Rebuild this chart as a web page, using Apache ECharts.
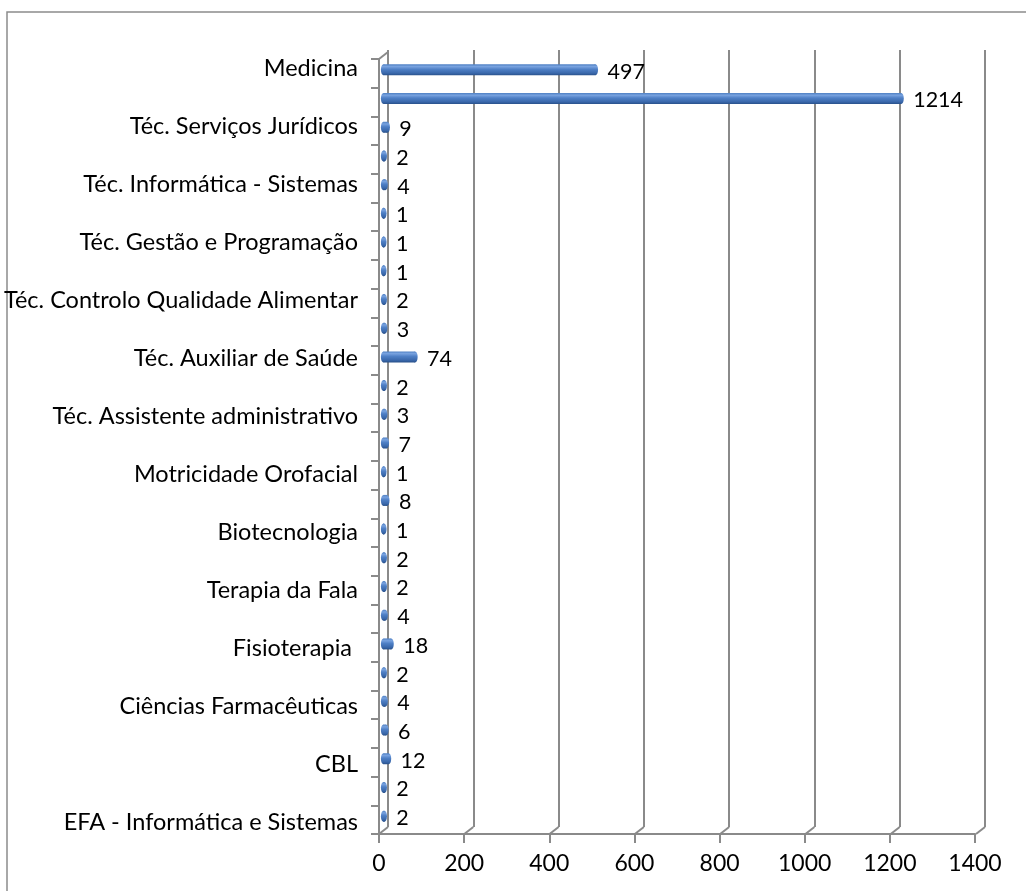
<!DOCTYPE html>
<html>
<head>
<meta charset="utf-8">
<script src="https://cdn.jsdelivr.net/npm/echarts@6/dist/echarts.min.js"></script>
<style>
html,body{margin:0;padding:0;background:#fff;}
#chart{width:1026px;height:891px;}
</style>
</head>
<body>
<div id="chart"></div>
<script>
// Categories listed top to bottom (only every other one is labelled in the original)
var categories = [
  'Medicina', '', 'Téc. Serviços Jurídicos', '', 'Téc. Informática - Sistemas', '',
  'Téc. Gestão e Programação', '', 'Téc. Controlo Qualidade Alimentar', '',
  'Téc. Auxiliar de Saúde', '', 'Téc. Assistente administrativo', '',
  'Motricidade Orofacial', '', 'Biotecnologia', '', 'Terapia da Fala', '',
  'Fisioterapia ', '', 'Ciências Farmacêuticas', '', 'CBL', '',
  'EFA - Informática e Sistemas'
];
var values = [
  497, 1214, 9, 2, 4, 1, 1, 1, 2, 3, 74, 2, 3, 7, 1, 8, 1, 2, 2, 4, 18, 2, 4, 6, 12, 2, 2
];
var xTicks = [0, 200, 400, 600, 800, 1000, 1200, 1400];

var FONT = 'Lato';
var GRAY = '#8a8a8a';

var chart = echarts.init(document.getElementById('chart'));

var barData = values.map(function (v, i) { return [v, i]; });
var tickData = xTicks.map(function (t) { return [t, 0]; });

function cylinderFill() {
  return new echarts.graphic.LinearGradient(0, 0, 0, 1, [
    {offset: 0, color: '#4f80c4'},
    {offset: 0.2, color: '#78a2df'},
    {offset: 0.45, color: '#4f80c6'},
    {offset: 0.8, color: '#3a68ab'},
    {offset: 1, color: '#28508a'}
  ]);
}

var option = {
  animation: false,
  backgroundColor: '#ffffff',
  graphic: [{
    type: 'rect',
    shape: {x: 7, y: 12, width: 1040, height: 900},
    style: {fill: 'none', stroke: '#8c8c8c', lineWidth: 1.5},
    silent: true,
    z: -10
  }],
  grid: [
    {left: 388, right: 41, top: 50, bottom: 64},        // back wall
    {left: 379, right: 51, top: 59, bottom: 57},        // front plane
    {left: 383.5, right: 45.5, top: 55.5, bottom: 60.5},// bar plane
    {left: 379, right: 51, top: 53.5, bottom: 54.5}     // category label band
  ],
  xAxis: [
    {
      gridIndex: 0, type: 'value', min: 0, max: 1400, interval: 200,
      axisLine: {show: false}, axisTick: {show: false}, axisLabel: {show: false},
      splitLine: {show: true, lineStyle: {color: GRAY, width: 2}}
    },
    {
      gridIndex: 1, type: 'value', min: 0, max: 1400, interval: 200,
      axisLine: {show: true, lineStyle: {color: GRAY, width: 2}},
      axisTick: {show: true, length: 9, lineStyle: {color: GRAY, width: 2}},
      axisLabel: {show: true, margin: 18, fontSize: 23, fontFamily: FONT, color: '#000',
        formatter: function (v) { return String(v); }},
      splitLine: {show: false}
    },
    {
      gridIndex: 2, type: 'value', min: 0, max: 1400, interval: 200, show: false
    },
    {
      gridIndex: 3, type: 'value', min: 0, max: 1400, interval: 200, show: false
    }
  ],
  yAxis: [
    {
      gridIndex: 0, type: 'value', min: 0, max: 1, show: false
    },
    {
      gridIndex: 1, type: 'category', data: categories, inverse: true,
      axisLine: {show: true, lineStyle: {color: GRAY, width: 2}},
      axisTick: {show: true, length: 8, interval: 0, lineStyle: {color: GRAY, width: 2}},
      axisLabel: {show: false},
      splitLine: {show: false}
    },
    {
      gridIndex: 2, type: 'category', data: categories, inverse: true, show: false
    },
    {
      gridIndex: 3, type: 'category', data: categories, inverse: true,
      axisLine: {show: false}, axisTick: {show: false},
      axisLabel: {show: true, interval: 1, margin: 21, fontSize: 23.5, fontFamily: FONT, color: '#000'},
      splitLine: {show: false}
    }
  ],
  series: [
    {
      // 3D floor connectors from back gridlines to front ticks
      type: 'custom',
      xAxisIndex: 0, yAxisIndex: 0,
      data: tickData,
      silent: true,
      renderItem: function (params, api) {
        var p = api.coord([api.value(0), 0]);
        var children = [{
          type: 'line',
          shape: {x1: p[0], y1: p[1], x2: p[0] - 9, y2: p[1] + 7},
          style: {stroke: GRAY, lineWidth: 2}
        }];
        if (api.value(0) === 0) {
          var q = api.coord([0, 1]);
          children.push({
            type: 'line',
            shape: {x1: q[0], y1: q[1] + 2, x2: q[0] - 9, y2: q[1] + 9},
            style: {stroke: GRAY, lineWidth: 2}
          });
        }
        return {type: 'group', children: children};
      },
      z: 1
    },
    {
      type: 'custom',
      xAxisIndex: 2, yAxisIndex: 2,
      data: barData,
      renderItem: function (params, api) {
        var v = api.value(0);
        var start = api.coord([0, api.value(1)]);
        var end = api.coord([v, api.value(1)]);
        var h = 11;
        var y = end[1] - h / 2;
        var capR = 2.6;
        return {
          type: 'group',
          children: [
            {
              type: 'rect',
              shape: {x: start[0], y: y, width: Math.max(end[0] - start[0], 0), height: h},
              style: {fill: cylinderFill()}
            },
            {
              type: 'ellipse',
              shape: {cx: start[0], cy: end[1], rx: capR, ry: h / 2},
              style: {fill: cylinderFill()}
            },
            {
              type: 'ellipse',
              shape: {cx: end[0], cy: end[1], rx: capR, ry: h / 2},
              style: {fill: cylinderFill()}
            },
            {
              type: 'text',
              style: {
                x: end[0] + 12, y: end[1] + 2,
                text: String(v),
                fontSize: 21.5, fontFamily: FONT, fill: '#000',
                textVerticalAlign: 'middle', textAlign: 'left'
              }
            }
          ]
        };
      },
      z: 5
    }
  ]
};
chart.setOption(option);
</script>
</body>
</html>
